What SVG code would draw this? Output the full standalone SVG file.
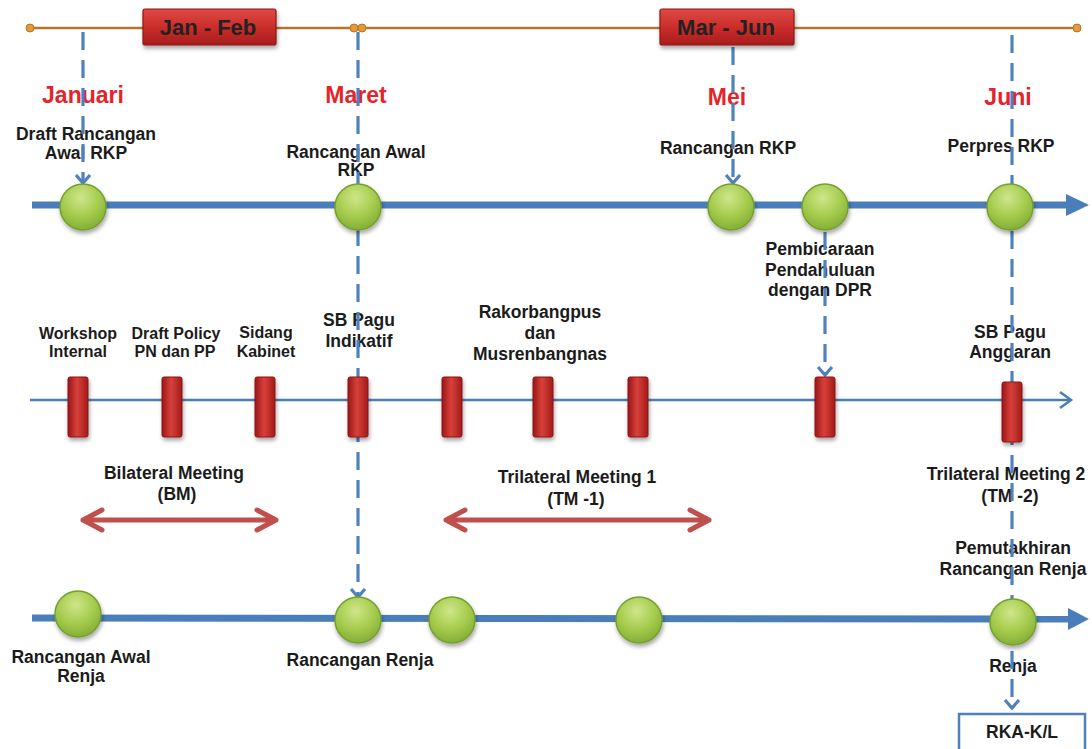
<svg xmlns="http://www.w3.org/2000/svg" width="1092" height="749" viewBox="0 0 1092 749">
  <defs>
    <radialGradient id="ball" cx="0.45" cy="0.3" r="0.75">
      <stop offset="0" stop-color="#cfe68a"/>
      <stop offset="0.55" stop-color="#a4cb4c"/>
      <stop offset="1" stop-color="#7fa934"/>
    </radialGradient>
    <linearGradient id="bar" x1="0" y1="0" x2="1" y2="0">
      <stop offset="0" stop-color="#9a1717"/>
      <stop offset="0.45" stop-color="#d8403a"/>
      <stop offset="1" stop-color="#a11b1b"/>
    </linearGradient>
    <linearGradient id="tag" x1="0" y1="0" x2="0" y2="1">
      <stop offset="0" stop-color="#de4a45"/>
      <stop offset="0.5" stop-color="#cc2d2b"/>
      <stop offset="1" stop-color="#a81d1d"/>
    </linearGradient>
    <filter id="shadow" x="-30%" y="-30%" width="160%" height="170%">
      <feGaussianBlur in="SourceAlpha" stdDeviation="2"/>
      <feOffset dx="1" dy="2.5" result="b"/>
      <feComponentTransfer><feFuncA type="linear" slope="0.35"/></feComponentTransfer>
      <feMerge><feMergeNode/><feMergeNode in="SourceGraphic"/></feMerge>
    </filter>
    <style>
      text { font-family: "Liberation Sans", Arial, sans-serif; font-weight: bold; text-anchor: middle; fill: #1b1b1b; }
      .lbl { font-size: 17.5px; }
      .sm { font-size: 16px; }
      .month { font-size: 23px; fill: #e3242b; }
      .tagtxt { font-size: 22px; fill: #222; }
      .dash { fill: none; stroke: #4f81bd; stroke-width: 3.2; stroke-dasharray: 18 10; }
      .tip { fill: none; stroke: #4f81bd; stroke-width: 3.2; stroke-linejoin: miter; }
      .axis { fill: none; stroke: #4a7ebb; stroke-width: 7; }
      .axis2 { fill: none; stroke: #4a7ebb; stroke-width: 2.5; }
      .span { fill: none; stroke: #c0504d; stroke-width: 5; stroke-linecap: round; stroke-linejoin: round; }
      .ball { fill: url(#ball); stroke: #76a02e; stroke-width: 1.5; filter: url(#shadow); }
      .bar { fill: url(#bar); stroke: #8c1616; stroke-width: 1; filter: url(#shadow); }
      .tag { fill: url(#tag); stroke: #8c1a1a; stroke-width: 1.2; filter: url(#shadow); }
      .dot { fill: #e39a3a; stroke: #c07020; stroke-width: 1; }
    </style>
  </defs>
  <rect width="1092" height="749" fill="#ffffff"/>

  <!-- period bar -->
  <g id="period-line">
    <line x1="30" y1="28" x2="1077" y2="28" stroke="#b8742f" stroke-width="2.5"/>
    <circle class="dot" cx="30" cy="28" r="4"/>
    <circle class="dot" cx="354" cy="28" r="4"/>
    <circle class="dot" cx="362" cy="28" r="4"/>
    <circle class="dot" cx="1077" cy="28" r="4"/>
  </g>

  <!-- timelines -->
  <g id="axes">
    <line class="axis" x1="32" y1="205" x2="1070" y2="205"/>
    <polygon points="1066,194 1089,205 1066,216" fill="#4a7ebb"/>
    <line class="axis2" x1="30" y1="400" x2="1070" y2="400"/>
    <path d="M1060,392 L1071,400 L1060,408" fill="none" stroke="#4a7ebb" stroke-width="2.5"/>
    <line class="axis" x1="32" y1="618" x2="1070" y2="619"/>
    <polygon points="1068,608 1089,619 1068,630" fill="#4a7ebb"/>
  </g>

  <!-- labels -->
  <g id="labels">
    <text class="month" x="83" y="103">Januari</text>
    <text class="month" x="356" y="103">Maret</text>
    <text class="month" x="727" y="105">Mei</text>
    <text class="month" x="1008" y="105">Juni</text>

    <text class="lbl" x="86" y="140">Draft Rancangan</text>
    <text class="lbl" x="86" y="159">Awal RKP</text>
    <text class="lbl" x="356" y="158">Rancangan Awal</text>
    <text class="lbl" x="356" y="176">RKP</text>
    <text class="lbl" x="728" y="154">Rancangan RKP</text>
    <text class="lbl" x="1001" y="152">Perpres RKP</text>

    <text class="lbl" x="820" y="255">Pembicaraan</text>
    <text class="lbl" x="820" y="276">Pendahuluan</text>
    <text class="lbl" x="820" y="296">dengan DPR</text>

    <text class="sm" x="78" y="339">Workshop</text>
    <text class="sm" x="78" y="357">Internal</text>
    <text class="sm" x="176" y="339">Draft Policy</text>
    <text class="sm" x="175" y="357">PN dan PP</text>
    <text class="sm" x="266" y="338">Sidang</text>
    <text class="sm" x="266" y="357">Kabinet</text>
    <text class="lbl" x="359" y="326">SB Pagu</text>
    <text class="lbl" x="359" y="347">Indikatif</text>
    <text class="lbl" x="540" y="318">Rakorbangpus</text>
    <text class="lbl" x="540" y="339">dan</text>
    <text class="lbl" x="540" y="360">Musrenbangnas</text>
    <text class="lbl" x="1010" y="338">SB Pagu</text>
    <text class="lbl" x="1010" y="358">Anggaran</text>

    <text class="lbl" x="174" y="479">Bilateral Meeting</text>
    <text class="lbl" x="177" y="500">(BM)</text>
    <text class="lbl" x="577" y="483">Trilateral Meeting 1</text>
    <text class="lbl" x="576" y="505">(TM -1)</text>
    <text class="lbl" x="1006" y="480">Trilateral Meeting 2</text>
    <text class="lbl" x="1010" y="502">(TM -2)</text>

    <text class="lbl" x="1013" y="554">Pemutakhiran</text>
    <text class="lbl" x="1013" y="575">Rancangan Renja</text>
    <text class="lbl" x="81" y="663">Rancangan Awal</text>
    <text class="lbl" x="81" y="682">Renja</text>
    <text class="lbl" x="360" y="666">Rancangan Renja</text>
    <text class="lbl" x="1013" y="672">Renja</text>
  </g>

  <!-- connectors -->
  <g id="connectors">
    <path class="dash" d="M83,32 V182"/>
    <path class="tip" d="M76,175 L83,183 L90,175"/>
    <path class="dash" d="M358,32 V596"/>
    <path class="tip" d="M351,589 L358,597 L365,589"/>
    <path class="dash" d="M733,47 V182"/>
    <path class="tip" d="M726,175 L733,183 L740,175"/>
    <path class="dash" d="M825,232 V374"/>
    <path class="tip" d="M818,367 L825,375 L832,367"/>
    <path class="dash" d="M1012,35 V707"/>
    <path class="tip" d="M1005,700 L1012,708 L1019,700"/>
    <path class="span" d="M83,520 H276 M102,510 L83,520 L102,530 M257,510 L276,520 L257,530"/>
    <path class="span" d="M446,520 H709 M465,510 L446,520 L465,530 M690,510 L709,520 L690,530"/>
  </g>

  <!-- period tags -->
  <g id="tag-jan-feb">
    <rect class="tag" x="143" y="9" width="133" height="36" rx="2"/>
    <text class="tagtxt" x="208" y="35">Jan - Feb</text>
  </g>
  <g id="tag-mar-jun">
    <rect class="tag" x="660" y="9" width="134" height="36" rx="2"/>
    <text class="tagtxt" x="726" y="35">Mar - Jun</text>
  </g>

  <!-- RKP milestones -->
  <g id="rkp-draft"><circle class="ball" cx="83" cy="207" r="23"/></g>
  <g id="rkp-awal"><circle class="ball" cx="358" cy="207" r="23"/></g>
  <g id="rkp-rancangan"><circle class="ball" cx="731" cy="207" r="23"/></g>
  <g id="rkp-dpr"><circle class="ball" cx="825" cy="207" r="23"/></g>
  <g id="rkp-perpres"><circle class="ball" cx="1010" cy="207" r="23"/></g>

  <!-- meetings -->
  <g id="ev-workshop"><rect class="bar" x="68" y="377" width="20" height="60" rx="2"/></g>
  <g id="ev-policy"><rect class="bar" x="162" y="377" width="20" height="60" rx="2"/></g>
  <g id="ev-kabinet"><rect class="bar" x="255" y="377" width="20" height="60" rx="2"/></g>
  <g id="ev-pagu-indikatif"><rect class="bar" x="348" y="377" width="20" height="60" rx="2"/></g>
  <g id="ev-rakor-1"><rect class="bar" x="442" y="377" width="20" height="60" rx="2"/></g>
  <g id="ev-rakor-2"><rect class="bar" x="533" y="377" width="20" height="60" rx="2"/></g>
  <g id="ev-rakor-3"><rect class="bar" x="628" y="377" width="20" height="60" rx="2"/></g>
  <g id="ev-dpr"><rect class="bar" x="815" y="377" width="20" height="60" rx="2"/></g>
  <g id="ev-pagu-anggaran"><rect class="bar" x="1002" y="382" width="20" height="60" rx="2"/></g>

  <!-- Renja milestones -->
  <g id="renja-awal"><circle class="ball" cx="78" cy="614" r="23"/></g>
  <g id="renja-rancangan"><circle class="ball" cx="358" cy="620" r="23"/></g>
  <g id="renja-3"><circle class="ball" cx="452" cy="620" r="23"/></g>
  <g id="renja-4"><circle class="ball" cx="639" cy="620" r="23"/></g>
  <g id="renja-final"><circle class="ball" cx="1013" cy="622" r="23"/></g>

  <!-- output -->
  <g id="rka-kl">
    <rect x="959" y="714" width="126" height="40" fill="#ffffff" stroke="#4f81bd" stroke-width="2.5"/>
    <text class="lbl" x="1022" y="738">RKA-K/L</text>
  </g>
</svg>
